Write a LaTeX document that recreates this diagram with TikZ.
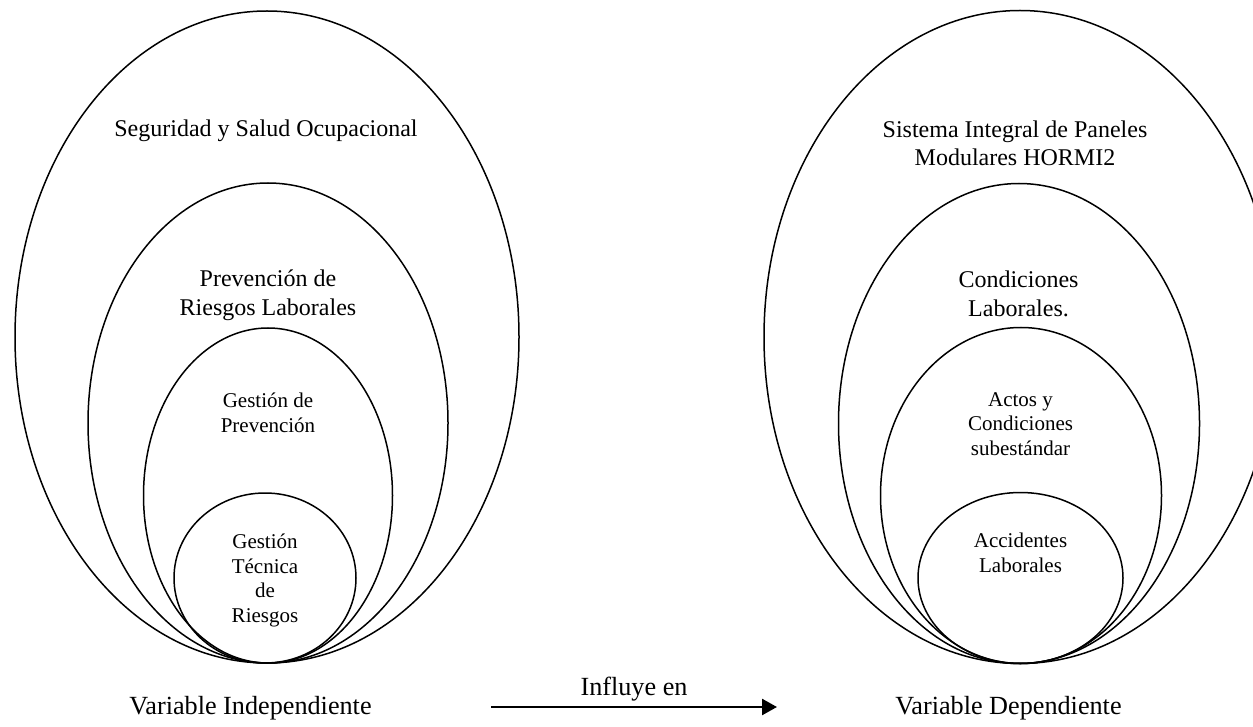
\documentclass[tikz,border=0pt]{standalone}
\usepackage{fontspec}
\setmainfont{Liberation Serif}
\usetikzlibrary{shapes.geometric,arrows.meta}

\begin{document}
\begin{tikzpicture}[x=0.5pt,y=-0.5pt]
            \tikzstyle{anillo}=[draw,ellipse,line width=0.75pt,inner sep=0pt]
            \tikzstyle{grande}=[align=center,inner sep=0pt,anchor=base,font=\fontsize{12}{14.3}\selectfont]
            \tikzstyle{chico}=[align=center,inner sep=0pt,anchor=base,font=\fontsize{10.5}{12.2}\selectfont]
            \tikzstyle{pie}=[inner sep=0pt,anchor=base,font=\fontsize{13.1}{15}\selectfont]
            \useasboundingbox (0,0) rectangle (1253,727);
            \node[anillo,minimum width=252pt,minimum height=326pt] (seguridad) at (267,337) {};
            \node[anillo,minimum width=180pt,minimum height=240pt] (prevencion) at (268,423) {};
            \node[anillo,minimum width=124.5pt,minimum height=167.5pt] (gestion) at (268,495.5) {};
            \node[anillo,minimum width=91pt,minimum height=85pt] (tecnica) at (265,578) {};
            \node[grande] (seguridad-txt) at (266,137) {Seguridad y Salud Ocupacional};
            \node[grande] (prevencion-txt) at (268,315) {Prevención de\\Riesgos Laborales};
            \node[chico] (gestion-txt) at (268,432) {Gestión de\\Prevención};
            \node[chico] (tecnica-txt) at (265,622) {Gestión\\Técnica\\de\\Riesgos};
            \node[anillo,minimum width=256pt,minimum height=326.5pt] (sistema) at (1020,337) {};
            \node[anillo,minimum width=180.5pt,minimum height=240pt] (condiciones) at (1019,423.5) {};
            \node[anillo,minimum width=140.5pt,minimum height=168pt] (actos) at (1021,495.5) {};
            \node[anillo,minimum width=102.5pt,minimum height=85.5pt] (accidentes) at (1020.5,578) {};
            \node[grande] (sistema-txt) at (1015,166) {Sistema Integral de Paneles\\Modulares HORMI2};
            \node[grande] (condiciones-txt) at (1018.5,316) {Condiciones\\Laborales.};
            \node[chico] (actos-txt) at (1020.5,455) {Actos y\\Condiciones\\subestándar};
            \node[chico] (accidentes-txt) at (1020.5,572) {Accidentes\\Laborales};
            \node[pie] (independiente) at (250.5,714) {Variable Independiente};
            \node[pie] (dependiente) at (1008.5,714) {Variable Dependiente};
            \coordinate (flecha-ini) at (491,707);
            \coordinate (flecha-fin) at (777,707);
            \draw[line width=1.25pt,-{Triangle[length=7.5pt,width=8pt]}] (flecha-ini) -- (flecha-fin)
                node[pie,midway,yshift=6pt] (influye) {Influye en};
        \end{tikzpicture}
\end{document}
